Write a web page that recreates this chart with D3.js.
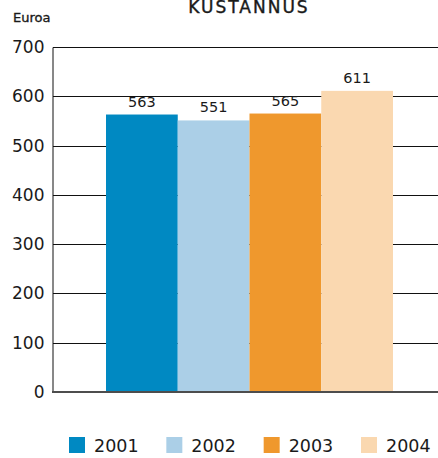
<!DOCTYPE html>
<html>
<head>
<meta charset="utf-8">
<script src="https://cdn.jsdelivr.net/npm/d3@7"></script>
<style>
  body { margin: 0; background: #fff; }
  svg { display: block; font-family: 'DejaVu Sans', sans-serif; }
</style>
</head>
<body>
<div id="chart"></div>
<script>
// Chart data
const years = ["2001", "2002", "2003", "2004"];
const values = [563, 551, 565, 611];
const yTicks = [0, 100, 200, 300, 400, 500, 600, 700];
const barColors = ["#0089c2", "#abcfe7", "#ef982d", "#fad8b0"];

const width = 438, height = 458;

const svg = d3.select("#chart").append("svg")
    .attr("width", width)
    .attr("height", height);

// Scales
const y = d3.scaleLinear().domain([0, 700]).range([392, 47]);
const x = d3.scaleBand().domain(years).range([106, 393]).padding(0);
const color = d3.scaleOrdinal().domain(years).range(barColors);

// Title (partly cut by the top edge, as in the original)
svg.append("text")
    .attr("x", 249)
    .attr("y", 13)
    .attr("text-anchor", "middle")
    .style("font-size", "17px")
    .style("letter-spacing", "2px")
    .style("fill", "#1a1a1a")
    .style("stroke", "#1a1a1a")
    .style("stroke-width", "0.4px")
    .text("KUSTANNUS");

// Unit label
svg.append("text")
    .attr("x", 13)
    .attr("y", 22)
    .style("font-size", "13px")
    .style("fill", "#1a1a1a")
    .style("stroke", "#1a1a1a")
    .style("stroke-width", "0.35px")
    .text("Euroa");

// Gridlines
svg.append("g")
    .selectAll("line")
    .data(yTicks.filter(d => d > 0))
    .join("line")
    .attr("x1", 53)
    .attr("x2", width)
    .attr("y1", d => Math.round(y(d)) + 0.5)
    .attr("y2", d => Math.round(y(d)) + 0.5)
    .attr("stroke", "#111")
    .attr("stroke-width", 1);

// Y axis
const yAxis = svg.append("g")
    .attr("transform", "translate(52.5,0)")
    .call(d3.axisLeft(y).tickValues(yTicks).tickSize(0).tickPadding(8));
yAxis.select(".domain").attr("stroke", "#111");
yAxis.selectAll("text")
    .style("font-size", "17px")
    .style("font-family", "'DejaVu Sans', sans-serif")
    .style("fill", "#1a1a1a");

// Bars
svg.append("g")
    .selectAll("rect")
    .data(values)
    .join("rect")
    .attr("x", (d, i) => x(years[i]))
    .attr("y", d => y(d))
    .attr("width", x.bandwidth())
    .attr("height", d => y(0) - y(d))
    .attr("fill", (d, i) => color(years[i]));

// Value labels
svg.append("g")
    .selectAll("text")
    .data(values)
    .join("text")
    .attr("x", (d, i) => x(years[i]) + x.bandwidth() / 2)
    .attr("y", d => y(d) - 8)
    .attr("text-anchor", "middle")
    .style("font-size", "14.5px")
    .style("fill", "#1a1a1a")
    .text(d => d);

// Baseline
svg.append("line")
    .attr("x1", 52)
    .attr("x2", width)
    .attr("y1", y(0))
    .attr("y2", y(0))
    .attr("stroke", "#4d4d4d")
    .attr("stroke-width", 2);

// Legend
const legendX = d3.scalePoint().domain(years).range([69, 361]);
const legend = svg.append("g")
    .selectAll("g")
    .data(years)
    .join("g")
    .attr("transform", d => `translate(${legendX(d)},437)`);

legend.append("rect")
    .attr("width", 16)
    .attr("height", 16)
    .attr("fill", d => color(d));

legend.append("text")
    .attr("x", 25)
    .attr("y", 15)
    .style("font-size", "17.5px")
    .style("fill", "#1a1a1a")
    .text(d => d);
</script>
</body>
</html>
